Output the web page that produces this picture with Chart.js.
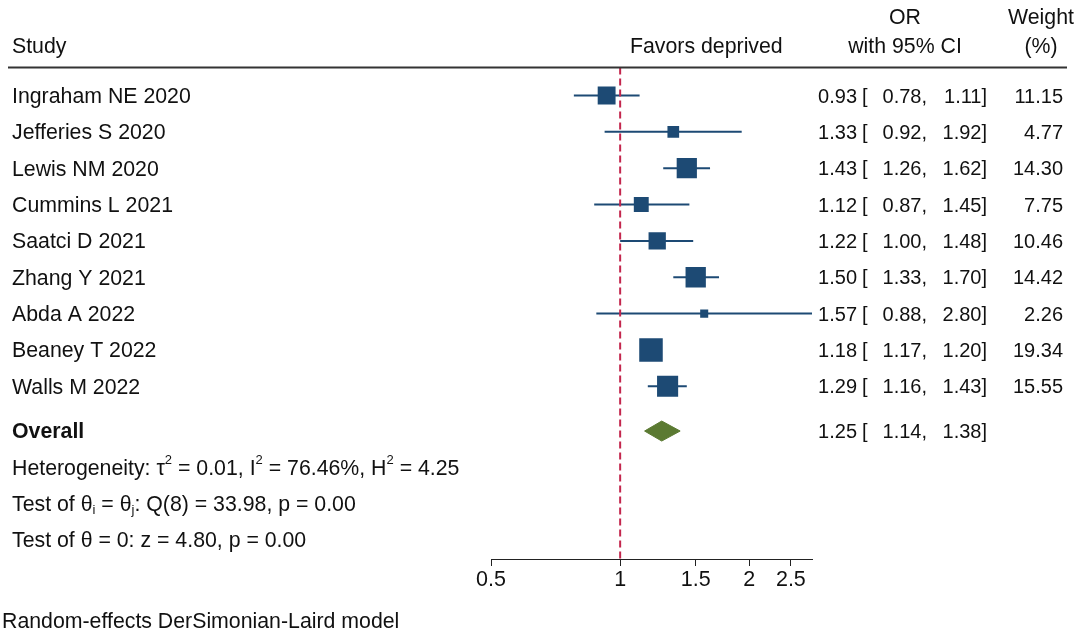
<!DOCTYPE html>
<html>
<head>
<meta charset="utf-8">
<script src="https://cdn.jsdelivr.net/npm/chart.js@4.4.0/dist/chart.umd.min.js"></script>
<style>
  html, body { margin: 0; padding: 0; background: #fff; }
  #wrap { width: 1082px; height: 630px; position: relative; }
</style>
</head>
<body>
<div id="wrap"><canvas id="forest" width="1082" height="630"></canvas></div>
<script>
// --- data ---
const studies = ['Ingraham NE 2020', 'Jefferies S 2020', 'Lewis NM 2020', 'Cummins L 2021',
                 'Saatci D 2021', 'Zhang Y 2021', 'Abda A 2022', 'Beaney T 2022', 'Walls M 2022'];
const orEst   = [0.93, 1.33, 1.43, 1.12, 1.22, 1.50, 1.57, 1.18, 1.29];
const ciLow   = [0.78, 0.92, 1.26, 0.87, 1.00, 1.33, 0.88, 1.17, 1.16];
const ciHigh  = [1.11, 1.92, 1.62, 1.45, 1.48, 1.70, 2.80, 1.20, 1.43];
const weights = [11.15, 4.77, 14.30, 7.75, 10.46, 14.42, 2.26, 19.34, 15.55];
const overallEst = 1.25;
const overallLow = 1.14;
const overallHigh = 1.38;
const xTicks = [0.5, 1, 1.5, 2, 2.5];
const xTickLabels = ['0.5', '1', '1.5', '2', '2.5'];

// row layout (y units = study rows)
const yTop = -0.77, yBottom = 12.75;
const overallRow = 9.23;
const statRows = [10.23, 11.23, 12.23];

const NAVY = '#1d4a74';
const GREEN = '#5b7a32';
const RED = '#c3264d';
const FONT = '"Liberation Sans", Arial, sans-serif';
const F = (size, bold) => (bold ? 'bold ' : '') + size + 'px ' + FONT;
const TXT = 21.3;   // label text
const NUM = 20;     // number columns
const TY = 1.5;     // text sits a bit below the marker centre

const datasets = [];

// squares, size by weight (area ~ weight)
datasets.push({
    type: 'scatter',
    data: orEst.map((v, i) => ({ x: v, y: i })),
    pointStyle: 'rect',
    pointRadius: weights.map(w => 5.35 * Math.sqrt(w) / Math.SQRT2),
    backgroundColor: NAVY,
    borderWidth: 0
});

// null line at OR = 1
datasets.push({
    type: 'line',
    data: [{ x: 1, y: yTop }, { x: 1, y: yBottom }],
    borderColor: RED,
    borderWidth: 2,
    borderDash: [7, 4],
    pointRadius: 0,
    fill: false
});

// confidence intervals
studies.forEach((s, i) => {
    datasets.push({
        type: 'line',
        data: [{ x: ciLow[i], y: i }, { x: ciHigh[i], y: i }],
        borderColor: NAVY,
        borderWidth: 2,
        pointRadius: 0,
        fill: false
    });
});

// overall diamond: upper half filled to lower half
const dh = 0.275;
datasets.push({
    type: 'line',
    data: [{ x: overallLow, y: overallRow }, { x: overallEst, y: overallRow - dh }, { x: overallHigh, y: overallRow }],
    borderColor: GREEN, borderWidth: 1, pointRadius: 0, tension: 0,
    backgroundColor: GREEN, fill: '+1'
});
datasets.push({
    type: 'line',
    data: [{ x: overallLow, y: overallRow }, { x: overallEst, y: overallRow + dh }, { x: overallHigh, y: overallRow }],
    borderColor: GREEN, borderWidth: 1, pointRadius: 0, tension: 0,
    fill: false
});

// draws text with super/subscripts
function drawRich(ctx, parts, x, y) {
    ctx.textAlign = 'left';
    parts.forEach(p => {
        const small = p.s === 'sup' || p.s === 'sub';
        ctx.font = F(small ? 13 : TXT);
        const dy = p.s === 'sup' ? -8 : (p.s === 'sub' ? 5 : 0);
        ctx.fillText(p.t, x, y + dy);
        x += ctx.measureText(p.t).width;
    });
}

const textPlugin = {
    id: 'forestText',
    afterDraw(chart) {
        const ctx = chart.ctx;
        const ys = chart.scales.y;
        const rowY = v => ys.getPixelForValue(v) + TY;
        ctx.save();
        ctx.fillStyle = '#111';
        ctx.textBaseline = 'middle';

        // header
        const hy1 = 18, hy2 = 47;
        ctx.font = F(TXT);
        ctx.textAlign = 'left';
        ctx.fillText('Study', 12, hy2);
        ctx.fillText('Favors deprived', 630, hy2);
        ctx.textAlign = 'center';
        ctx.fillText('OR', 905, hy1);
        ctx.fillText('with 95% CI', 905, hy2);
        ctx.fillText('Weight', 1041, hy1);
        ctx.fillText('(%)', 1041, hy2);

        // header rule
        ctx.strokeStyle = '#333';
        ctx.lineWidth = 2;
        ctx.beginPath();
        const ly = ys.getPixelForValue(yTop);
        ctx.moveTo(8, ly);
        ctx.lineTo(1067, ly);
        ctx.stroke();

        // study rows
        const drawNums = (py, est, lo, hi, w) => {
            ctx.font = F(NUM);
            ctx.textAlign = 'right';
            ctx.fillText(est.toFixed(2), 857, py);
            ctx.textAlign = 'left';
            ctx.fillText('[', 862, py);
            ctx.textAlign = 'right';
            ctx.fillText(lo.toFixed(2) + ',', 927, py);
            ctx.fillText(hi.toFixed(2) + ']', 987, py);
            if (w !== null) ctx.fillText(w.toFixed(2), 1063, py);
        };
        studies.forEach((s, i) => {
            const py = rowY(i);
            ctx.font = F(TXT);
            ctx.textAlign = 'left';
            ctx.fillText(s, 12, py);
            drawNums(py, orEst[i], ciLow[i], ciHigh[i], weights[i]);
        });

        // overall row
        const oy = rowY(overallRow);
        ctx.font = F(TXT, true);
        ctx.textAlign = 'left';
        ctx.fillText('Overall', 12, oy);
        drawNums(oy, overallEst, overallLow, overallHigh, null);

        // heterogeneity stats
        drawRich(ctx, [
            { t: 'Heterogeneity: \u03c4' }, { t: '2', s: 'sup' }, { t: ' = 0.01, I' }, { t: '2', s: 'sup' },
            { t: ' = 76.46%, H' }, { t: '2', s: 'sup' }, { t: ' = 4.25' }
        ], 12, rowY(statRows[0]));
        drawRich(ctx, [
            { t: 'Test of \u03b8' }, { t: 'i', s: 'sub' }, { t: ' = \u03b8' }, { t: 'j', s: 'sub' },
            { t: ': Q(8) = 33.98, p = 0.00' }
        ], 12, rowY(statRows[1]));
        drawRich(ctx, [{ t: 'Test of \u03b8 = 0: z = 4.80, p = 0.00' }], 12, rowY(statRows[2]));

        // footnote
        ctx.font = F(TXT);
        ctx.textAlign = 'left';
        ctx.fillText('Random-effects DerSimonian-Laird model', 2, 622);
        ctx.restore();
    }
};

new Chart(document.getElementById('forest'), {
    type: 'scatter',
    data: { datasets: datasets },
    options: {
        responsive: false,
        animation: false,
        events: [],
        layout: { padding: { left: 491, right: 270, top: 67.5, bottom: 31 } },
        scales: {
            x: {
                type: 'logarithmic',
                min: 0.5,
                max: 2.8,
                bounds: 'data',
                position: 'bottom',
                afterBuildTicks: s => { s.ticks = xTicks.map(v => ({ value: v })); },
                afterFit: s => { s.height = 40; },
                grid: { drawOnChartArea: false, drawTicks: true, tickLength: 7, color: '#222', lineWidth: 1 },
                border: { display: true, color: '#222', width: 1 },
                ticks: {
                    autoSkip: false,
                    maxRotation: 0,
                    color: '#111',
                    padding: 1,
                    font: { size: 21.5, family: FONT },
                    callback: (v, i) => xTickLabels[i]
                }
            },
            y: {
                type: 'linear',
                reverse: true,
                min: yTop,
                max: yBottom,
                display: false
            }
        },
        plugins: {
            legend: { display: false },
            tooltip: { enabled: false }
        }
    },
    plugins: [textPlugin]
});
</script>
</body>
</html>
